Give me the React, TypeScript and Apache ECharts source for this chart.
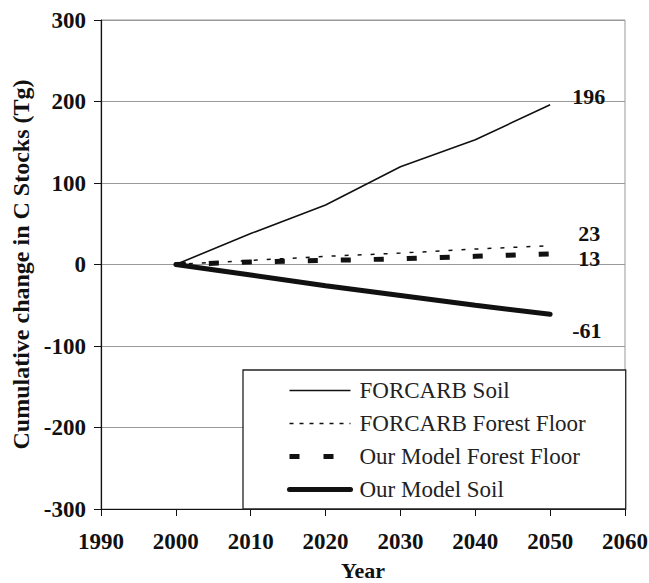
import React, { useEffect, useRef } from "react";
import * as echarts from "echarts";

// Projection years and cumulative change in soil / forest-floor carbon (Tg)
const years = [2000, 2010, 2020, 2030, 2040, 2050];
const forcarbSoil = [0, 38, 73, 120, 153, 196];
const forcarbFloor = [0, 5, 10, 14, 19, 23];
const modelFloor = [0, 3, 5, 7, 10, 13];
const modelSoil = [0, -13, -26, -38, -50, -61];

const seriesNames = [
  "FORCARB Soil",
  "FORCARB Forest Floor",
  "Our Model Forest Floor",
  "Our Model Soil",
];

const SERIF = "'Liberation Serif', 'Times New Roman', serif";
const INK = "#111";

// line styles shared between the plotted series and their legend swatches
const styles: any[] = [
  { color: INK, width: 1.6, type: "solid" },
  { color: INK, width: 1.5, type: [4, 9] },
  { color: INK, width: 5, type: [10, 23] },
  { color: INK, width: 5, type: "solid", cap: "round" },
];
const legendDash: any[] = ["solid", [4, 6], [10, 24], "solid"];

const pairs = (vals: number[]) => years.map((y, i) => [y, vals[i]]);

export default function App() {
  const ref = useRef<HTMLDivElement>(null);

  useEffect(() => {
    if (!ref.current) return;
    const chart = echarts.init(ref.current, null, { renderer: "svg" });

    const endLabel = (offset: number[]) => ({
      show: true,
      formatter: (p: any) => String(p.value[1]),
      offset,
      fontFamily: SERIF,
      fontWeight: "bold",
      fontSize: 22,
      color: INK,
    });

    const values = [forcarbSoil, forcarbFloor, modelFloor, modelSoil];
    const offsets = [
      [14, -8],
      [20, -12],
      [20, 5],
      [14, 16],
    ];

    chart.setOption({
      animation: false,
      backgroundColor: "#fff",
      grid: {
        left: 101,
        top: 20,
        right: 24,
        bottom: 74,
        outerBoundsMode: "none",
        show: true,
        borderColor: "#999",
        borderWidth: 1,
      },
      xAxis: {
        type: "value",
        min: 1990,
        max: 2060,
        interval: 10,
        name: "Year",
        nameLocation: "middle",
        nameGap: 50,
        nameTextStyle: { fontFamily: SERIF, fontWeight: "bold", fontSize: 22, color: INK },
        axisLine: { onZero: false, lineStyle: { color: INK, width: 1.2 } },
        axisTick: { show: true, length: 7, lineStyle: { color: INK } },
        axisLabel: {
          margin: 21,
          fontFamily: SERIF,
          fontWeight: "bold",
          fontSize: 23,
          color: INK,
          formatter: (v: number) => String(v),
        },
        splitLine: { show: false },
      },
      yAxis: {
        type: "value",
        min: -300,
        max: 300,
        interval: 100,
        name: "Cumulative change in C Stocks (Tg)",
        nameLocation: "middle",
        nameGap: 50,
        nameTextStyle: { fontFamily: SERIF, fontWeight: "bold", fontSize: 24, color: INK },
        axisLine: { show: true, lineStyle: { color: INK, width: 1.2 } },
        axisTick: { show: true, length: 7, lineStyle: { color: INK } },
        axisLabel: {
          margin: 15,
          fontFamily: SERIF,
          fontWeight: "bold",
          fontSize: 23,
          color: INK,
        },
        splitLine: { show: true, lineStyle: { color: "#999", width: 1 } },
      },
      legend: {
        data: seriesNames.map((name, i) => ({
          name,
          itemStyle: { opacity: 0 },
          lineStyle: { ...styles[i], type: legendDash[i] },
        })),
        orient: "vertical",
        left: 243,
        top: 370,
        align: "left",
        backgroundColor: "#fff",
        borderColor: "#222",
        borderWidth: 1.3,
        padding: [9, 40, 8, 44],
        itemWidth: 61,
        itemHeight: 20,
        itemGap: 10,
        textStyle: {
          fontFamily: SERIF,
          fontSize: 23,
          color: "#222",
          padding: [0, 0, 0, 4],
        },
        selectedMode: false,
        z: 10,
      },
      series: seriesNames.map((name, i) => ({
        name,
        type: "line",
        data: pairs(values[i]),
        symbol: "none",
        lineStyle: styles[i],
        itemStyle: { color: INK },
        endLabel: endLabel(offsets[i]),
      })),
    });

    return () => chart.dispose();
  }, []);

  return (
    <div
      ref={ref}
      style={{ position: "fixed", left: 0, top: 0, width: 649, height: 583 }}
    />
  );
}
